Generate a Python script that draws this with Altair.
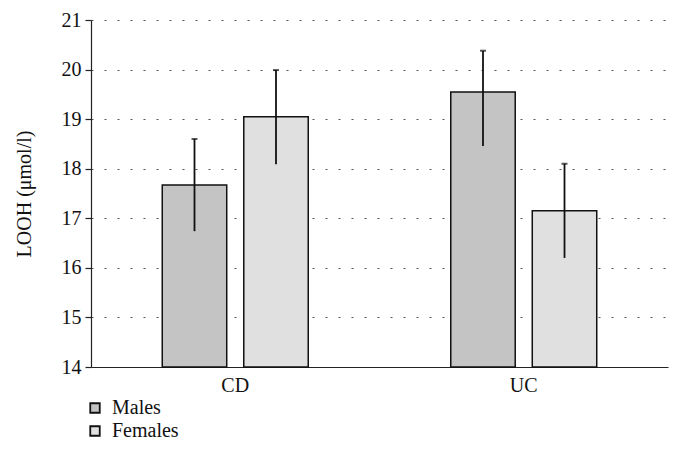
import altair as alt
import pandas as pd

groups = ["CD", "CD", "UC", "UC"]
sexes = ["Males", "Females", "Males", "Females"]
means = [17.67, 19.05, 19.55, 17.15]
err_low = [16.74, 18.09, 18.46, 16.2]
err_high = [18.6, 19.99, 20.38, 18.1]

df = pd.DataFrame({"group": groups, "sex": sexes, "mean": means, "lo": err_low, "hi": err_high})

FONT = "Liberation Serif"
sex_order = ["Males", "Females"]
YTITLE = "LOOH (μmol/l)"

x = alt.X("group:N", title=None, sort=["CD", "UC"],
          scale=alt.Scale(paddingInner=0.494, paddingOuter=0.247))
xo = alt.XOffset("sex:N", sort=sex_order, scale=alt.Scale(paddingInner=0.209, paddingOuter=0))
yscale = alt.Scale(domain=[14, 21], nice=False, zero=False)

bars = alt.Chart(df).mark_bar(stroke="#111", strokeWidth=1.5).encode(
    x=x, xOffset=xo,
    y=alt.Y("mean:Q", title=YTITLE, scale=yscale),
    y2=alt.datum(14),
    fill=alt.Fill("sex:N", sort=sex_order,
                  scale=alt.Scale(domain=sex_order, range=["#c4c4c4", "#e0e0e0"]),
                  legend=alt.Legend(title=None, orient="none", legendX=-6, legendY=378,
                                    direction="vertical", symbolType="square", symbolSize=90,
                                    symbolStrokeColor="#111", symbolStrokeWidth=1.8,
                                    labelFont=FONT, labelFontSize=20, labelColor="#111",
                                    rowPadding=3, labelOffset=7)),
)

rules = alt.Chart(df).mark_rule(color="#111", strokeWidth=1.8).encode(
    x=x, xOffset=xo,
    y=alt.Y("lo:Q", title=YTITLE, scale=yscale), y2="hi:Q")

caps = alt.Chart(df).mark_tick(color="#111", thickness=2, size=6, orient="horizontal").encode(
    x=x, xOffset=xo,
    y=alt.Y("hi:Q", title=YTITLE, scale=yscale))

chart = alt.layer(bars, rules, caps).properties(
    width=577, height=347,
    autosize=alt.AutoSizeParams(type="none"),
    padding={"left": 83, "top": 12, "right": 5, "bottom": 80},
).configure_view(stroke=None).configure_axis(
    domainColor="#222", domainWidth=1.2, labelFont=FONT, labelFontSize=20,
    labelColor="#111", titleFont=FONT, titleFontSize=20, titleFontWeight="normal",
    titleColor="#111",
).configure_axisX(
    labelAngle=0, ticks=False, labelPadding=8, grid=False,
).configure_axisY(
    tickCount=7, format="d", tickSize=6, tickColor="#222", tickWidth=1.2,
    labelPadding=4, titlePadding=27,
    grid=True, gridColor="#555", gridDash=[2, 11], gridWidth=1.2,
)

chart.save("out.html", embed_options={"renderer": "svg", "actions": False})
